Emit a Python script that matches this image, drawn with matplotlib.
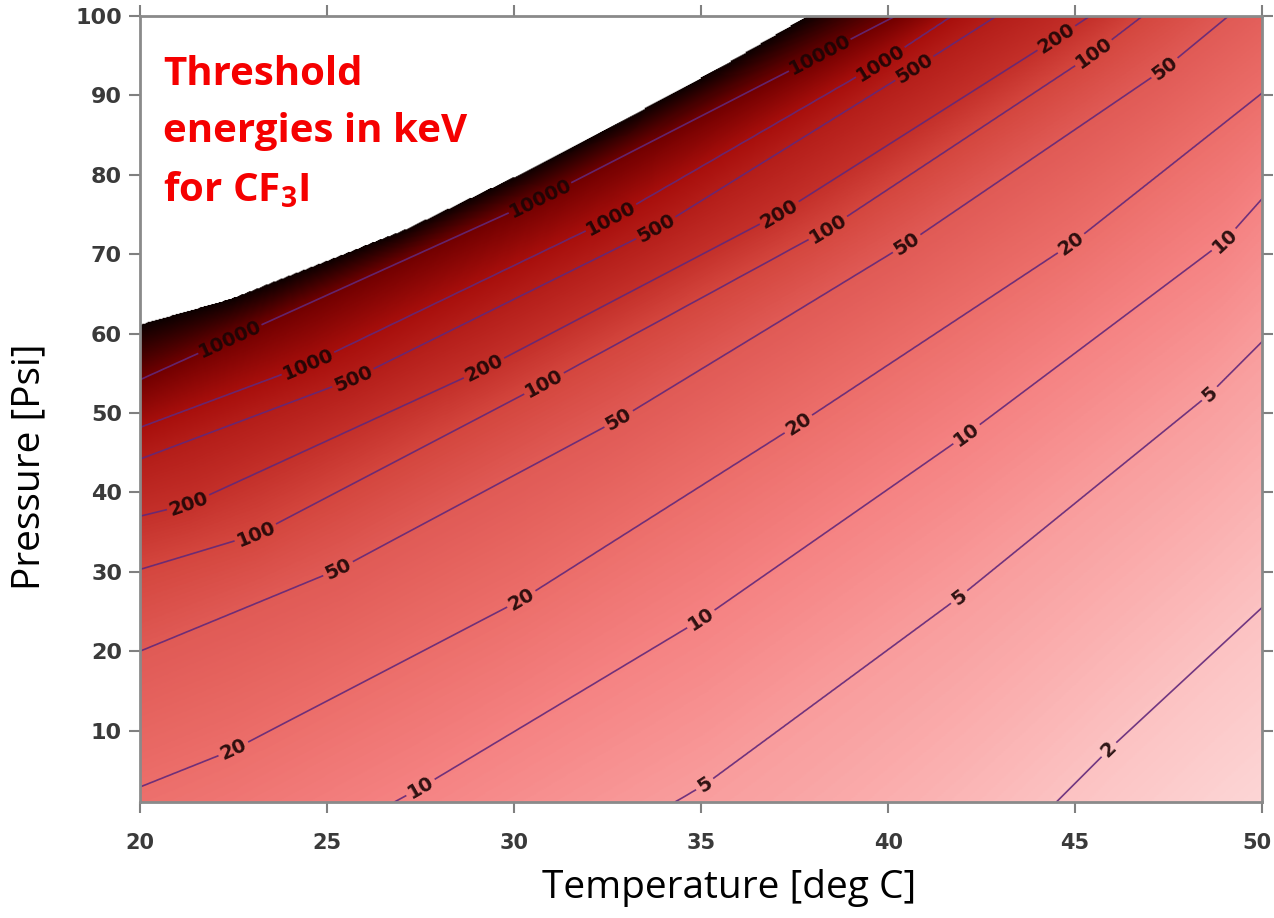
import numpy as np
import matplotlib
matplotlib.use("Agg")
import matplotlib.pyplot as plt
import matplotlib.transforms as mtransforms
from matplotlib.colors import LinearSegmentedColormap

plt.rcParams['mathtext.fontset'] = 'custom'
plt.rcParams['mathtext.rm'] = 'Open Sans:bold'
plt.rcParams['mathtext.bf'] = 'Open Sans:bold'

# threshold energy levels (keV) and the (T, P) points each iso-line passes through
LEVELS = [2, 5, 10, 20, 50, 100, 200, 500, 1000, 10000]

t_2 = [44.5, 45.9, 50.0]
p_2 = [1.0, 7.6, 25.5]
t_5 = [34.3, 35.1, 41.9, 48.6, 50.0]
p_5 = [1.0, 3.2, 26.8, 52.4, 59.0]
t_10 = [26.8, 27.5, 35.0, 42.1, 49.0, 50.0]
p_10 = [1.0, 2.8, 24.0, 47.3, 71.7, 77.0]
t_20 = [20.0, 22.5, 30.2, 37.6, 44.9, 50.0]
p_20 = [2.9, 7.6, 26.5, 48.6, 71.3, 90.3]
t_50 = [20.0, 25.3, 32.8, 40.5, 47.4, 49.1]
p_50 = [20.0, 30.3, 49.2, 71.3, 93.4, 100.0]
t_100 = [20.0, 23.1, 30.8, 38.4, 45.5, 46.8]
p_100 = [30.3, 34.7, 53.7, 73.2, 95.3, 100.0]
t_200 = [20.0, 21.3, 29.2, 37.1, 44.5, 45.4]
p_200 = [37.0, 38.5, 55.6, 75.1, 97.2, 100.0]
t_500 = [20.0, 25.7, 33.8, 40.7, 42.9]
p_500 = [44.2, 54.3, 73.2, 93.4, 100.0]
t_1000 = [20.0, 24.5, 32.6, 39.8, 41.7]
p_1000 = [48.2, 56.1, 74.5, 94.1, 100.0]
t_10000 = [22.4, 30.7, 38.4, 40.2]
p_10000 = [59.3, 77.0, 95.6, 100.0]

# edge of the region where a threshold exists (white above it)
t_edge = [20.0, 22.4, 27.0, 30.0, 33.0, 35.5, 37.8]
p_edge = [61.2, 64.4, 73.0, 79.8, 87.2, 93.6, 100.0]
LOG_EDGE = 4.7

# where the contour labels sit
label_pos = [
    (22.4, 59.3), (30.7, 77.0), (38.2, 94.8),
    (24.5, 56.1), (32.6, 74.5), (39.8, 94.1),
    (25.7, 54.3), (33.8, 73.2), (40.7, 93.4),
    (21.3, 38.5), (29.2, 55.6), (37.1, 75.1), (44.5, 97.2),
    (23.1, 34.7), (30.8, 53.7), (38.4, 73.2), (45.5, 95.3),
    (25.3, 30.3), (32.8, 49.2), (40.5, 71.3), (47.4, 93.4),
    (22.5, 7.6), (30.2, 26.5), (37.6, 48.6), (44.9, 71.3),
    (27.5, 2.8), (35.0, 24.0), (42.1, 47.3), (49.0, 71.7),
    (35.1, 3.2), (41.9, 26.8), (48.6, 52.4),
    (45.9, 7.6),
]

x_ticks = [20, 25, 30, 35, 40, 45, 50]
y_ticks = [10, 20, 30, 40, 50, 60, 70, 80, 90, 100]


def interp_ext(x, xp, fp):
    """Linear interpolation that keeps going past both ends."""
    x = np.asarray(x, dtype=float)
    xp = np.asarray(xp, dtype=float)
    fp = np.asarray(fp, dtype=float)
    y = np.interp(x, xp, fp)
    lo = x < xp[0]
    hi = x > xp[-1]
    y[lo] = fp[0] + (x[lo] - xp[0]) * (fp[1] - fp[0]) / (xp[1] - xp[0])
    y[hi] = fp[-1] + (x[hi] - xp[-1]) * (fp[-1] - fp[-2]) / (xp[-1] - xp[-2])
    return y


lines = [(t_2, p_2), (t_5, p_5), (t_10, p_10), (t_20, p_20), (t_50, p_50),
         (t_100, p_100), (t_200, p_200), (t_500, p_500), (t_1000, p_1000),
         (t_10000, p_10000), (t_edge, p_edge)]
log_vals = np.append(np.log10(LEVELS), LOG_EDGE)

T = np.linspace(20, 50, 601)
P = np.linspace(1, 100, 800)

P_lv = np.array([interp_ext(T, t, p) for t, p in lines])
for k in range(1, len(P_lv)):
    P_lv[k] = np.maximum(P_lv[k], P_lv[k - 1] + 0.5)

Z = np.empty((len(P), len(T)))
for j in range(len(T)):
    Z[:, j] = interp_ext(P, P_lv[:, j], log_vals)
edge_p = interp_ext(T, t_edge, p_edge)
Zm = np.ma.masked_where(P[:, None] > edge_p[None, :], Z)

cmap_nodes = [(0.0, '#fdd6d6'), (0.3, '#fcc2c2'), (0.7, '#f99c9c'), (1.0, '#f58282'),
              (1.3, '#ec6e6a'), (1.7, '#e05a55'), (2.0, '#d4463e'), (2.3, '#c4302a'),
              (3.0, '#a80f0c'), (4.0, '#720000'), (4.7, '#0c0000')]
cmap = LinearSegmentedColormap.from_list(
    'thresh', [(v / LOG_EDGE, c) for v, c in cmap_nodes])
cmap.set_bad((1, 1, 1, 0))

fig = plt.figure(figsize=(12.74, 9.18), dpi=100)
ax = fig.add_axes([0.110, 0.1264, 0.8807, 0.8562])

ax.imshow(Zm, extent=[20, 50, 1, 100], origin='lower', aspect='auto',
          cmap=cmap, vmin=0, vmax=LOG_EDGE, interpolation='bilinear')

cs = ax.contour(T, P, Zm, levels=np.log10(LEVELS), colors='#62287a',
                linewidths=1.2, alpha=0.9)
labels = ax.clabel(cs, manual=label_pos, fmt=lambda v: f'{10 ** v:.0f}',
                   fontsize=14, colors='#1a0505', inline=True, inline_spacing=4)
for t in labels:
    t.set_fontweight('bold')

ax.set_xlim(20, 50)
ax.set_ylim(1, 100)
ax.set_xticks(x_ticks)
ax.set_yticks(y_ticks)
ax.tick_params(axis='both', direction='out', length=8, width=1.5, color='#808080',
               labelsize=16, labelcolor='#3a3a3a', top=True, right=True)
ax.tick_params(axis='x', pad=14, labelsize=15)
ax.tick_params(axis='y', pad=5)
for lab in ax.get_xticklabels() + ax.get_yticklabels():
    lab.set_fontweight('bold')
# keep the last temperature label inside the figure
last = ax.get_xticklabels()[-1]
last.set_transform(last.get_transform() +
                   mtransforms.ScaledTranslation(-4 / 72, 0, fig.dpi_scale_trans))
for sp in ax.spines.values():
    sp.set_color('#8a8a8a')
    sp.set_linewidth(2)

ax.set_xlabel('Temperature [deg C]', fontsize=28, family='Open Sans')
ax.set_ylabel('Pressure [Psi]', fontsize=28, family='Open Sans')
ax.xaxis.set_label_coords(0.525, -0.085)
ax.yaxis.set_label_coords(-0.082, 0.426)

title_lines = ['Threshold', 'energies in keV', r'for CF$_{\mathbf{3}}$I']
for line, yy in zip(title_lines, [0.912, 0.840, 0.764]):
    ax.text(0.0205, yy, line, transform=ax.transAxes, color='#f50000',
            fontsize=29, fontweight='bold', family='Open Sans', va='baseline')

fig.savefig('out.png', dpi=100)
